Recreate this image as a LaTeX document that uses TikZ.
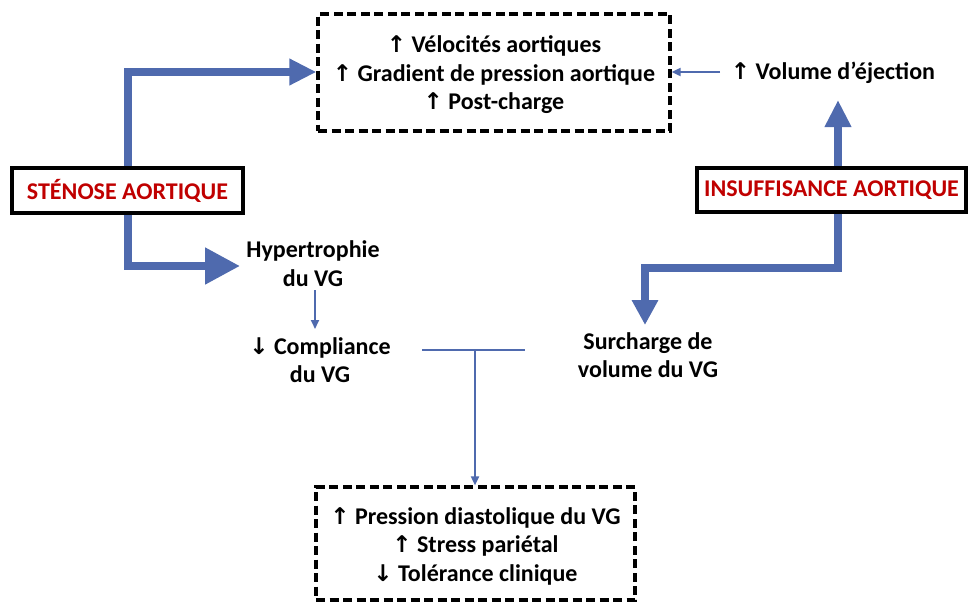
\documentclass[tikz,border=0pt]{standalone}
\usepackage{fontspec}
\setmainfont{Carlito}
\newfontfamily\arrfont{DejaVu Sans}
\usetikzlibrary{arrows.meta}
\newcommand{\upar}{{\arrfont\bfseries\fontsize{23}{24}\selectfont ↑}}
\newcommand{\dnar}{{\arrfont\bfseries\fontsize{23}{24}\selectfont ↓}}
\definecolor{flowblue}{HTML}{4F6AAE}
\definecolor{darkred}{HTML}{C00000}
\begin{document}
\begin{tikzpicture}[x=1pt,y=-1pt,
  txt/.style={font=\bfseries\fontsize{24}{28.5}\selectfont, align=center, inner sep=0pt},
  dashbox/.style={draw=black, line width=3.2pt, dash pattern=on 9pt off 4.5pt, inner sep=0pt},
  redbox/.style={draw=black, line width=3.5pt, fill=white, inner sep=0pt, text=darkred,
    font=\bfseries\fontsize{24}{26}\selectfont},
  thick arrow/.style={draw=flowblue, line width=8pt},
  thin arrow/.style={draw=flowblue, line width=1.8pt, -{Triangle[length=9pt,width=8pt]}}
]
\useasboundingbox (0,0) rectangle (969,603);
% boxes
\node[dashbox, minimum width=352pt, minimum height=117pt] (top) at (494,72.5) {};
\node[txt] (toptxt) at (494,75)
  {\upar\ Vélocités aortiques\\ \upar\ Gradient de pression aortique\\ \upar\ Post-charge};
\node[dashbox, minimum width=319pt, minimum height=113pt] (bot) at (475.5,543.5) {};
\node[txt] (bottxt) at (475.5,546)
  {\upar\ Pression diastolique du VG\\ \upar\ Stress pariétal\\ \dnar\ Tolérance clinique};
\node[txt] (vol) at (833,73) {\upar\ Volume d’éjection};
\node[txt] (hyp) at (313,263.5) {Hypertrophie\\du VG};
\node[txt] (comp) at (320,360) {\dnar\ Compliance\\du VG};
\node[txt] (surch) at (648,355) {Surcharge de\\volume du VG};
% thick arrows (behind red boxes)
\coordinate (sa) at (128,190);
\coordinate (ia) at (838,190);
\draw[thick arrow, -{Triangle[length=27pt,width=25pt]}] (sa) -- (128,72) -- (top.west |- 0,72);
\draw[thick arrow, -{Triangle[length=35pt,width=35pt]}] (sa) -- (128,266) -- (240,266);
\draw[thick arrow, -{Triangle[length=27pt,width=25pt]}] (ia) -- (838,100);
\draw[thick arrow, -{Triangle[length=25pt,width=25pt]}] (ia) -- (838,268) -- (645,268) -- (645,325);
\node[redbox, minimum width=231pt, minimum height=45pt] (sten) at (127.5,190.5) {STÉNOSE AORTIQUE};
\node[redbox, minimum width=269pt, minimum height=44pt] (insuf) at (831.5,190) {INSUFFISANCE AORTIQUE};
% thin arrows
\coordinate (vs) at (720,72);
\draw[thin arrow] (vs) -- (top.east |- vs);
\draw[thin arrow] (315,290) coordinate (h1) -- (315,329) coordinate (c1);
\coordinate (jl) at (422,350);
\coordinate (jr) at (525,350);
\coordinate (jm) at (475,350);
\draw[draw=flowblue, line width=1.8pt] (jl) -- (jr);
\draw[thin arrow] (jm) -- (jm |- bot.north);
\end{tikzpicture}
\end{document}
